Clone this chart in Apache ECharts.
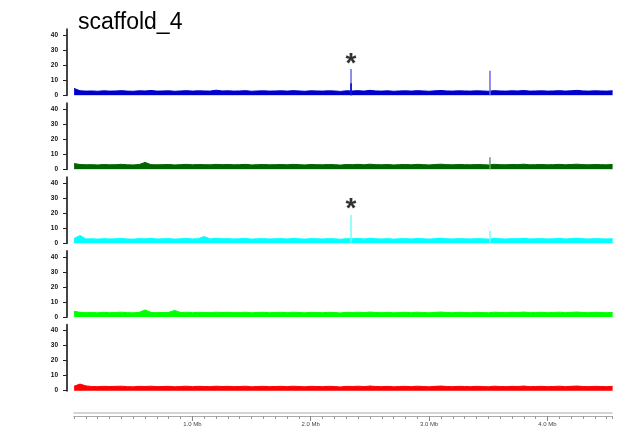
<!DOCTYPE html>
<html><head><meta charset="utf-8">
<script src="https://cdn.jsdelivr.net/npm/echarts@6/dist/echarts.min.js"></script>
<style>html,body{margin:0;padding:0;background:#fff}#c{width:630px;height:431px}</style>
</head><body><div id="c"></div>
<script>
// Coverage bins: 0.05 Mb each, starting at 0 Mb
const binSizeMb = 0.05;
const blueCov = [
4.6,3.0,2.8,2.9,2.7,3.0,2.8,2.9,3.1,2.8,
2.7,3.0,2.9,3.2,2.8,2.9,3.0,2.7,2.9,3.1,
2.8,3.0,2.9,2.8,3.4,2.9,3.0,2.8,2.9,3.1,
2.7,2.9,3.0,2.8,2.9,3.0,2.8,3.1,2.9,2.7,
3.0,2.9,2.8,3.0,2.9,2.6,3.0,2.9,3.1,2.8,
3.3,2.9,2.8,3.0,2.7,2.9,3.0,2.8,3.1,2.9,
2.7,3.0,3.2,2.9,2.8,3.0,2.9,2.8,3.0,2.9,
2.7,3.1,2.9,2.8,3.0,2.9,3.2,2.8,2.9,3.0,
2.8,2.9,3.1,2.8,3.0,3.3,2.9,2.8,3.0,2.9,
2.8,3.0];
const greenCov = [
3.8,3.2,3.0,3.1,2.9,3.2,3.0,3.1,3.3,3.0,
2.9,3.2,4.6,3.1,3.0,3.1,3.2,2.9,3.1,3.3,
3.0,3.2,3.1,3.0,3.3,3.1,3.2,3.0,3.1,3.3,
2.9,3.1,3.2,3.0,3.1,3.2,3.0,3.3,3.1,2.9,
3.2,3.1,3.0,3.2,3.1,2.8,3.2,3.1,3.3,3.0,
3.4,3.1,3.0,3.2,2.9,3.1,3.2,3.0,3.3,3.1,
2.9,3.2,3.4,3.1,3.0,3.2,3.1,3.0,3.2,3.1,
2.9,3.3,3.1,3.0,3.2,3.1,3.4,3.0,3.1,3.2,
3.0,3.1,3.3,3.0,3.2,3.4,3.1,3.0,3.2,3.1,
3.0,3.2];
const cyanCov = [
3.2,5.2,2.9,3.0,2.8,3.1,2.9,3.0,3.2,2.9,
2.8,3.1,3.0,3.2,2.9,3.0,3.1,2.8,3.0,3.2,
2.9,3.1,4.5,2.9,3.3,3.0,3.1,2.9,3.0,3.2,
2.8,3.0,3.1,2.9,3.0,3.1,2.9,3.2,3.0,2.8,
3.1,3.0,2.9,3.1,3.0,2.7,3.1,3.0,3.2,2.9,
3.3,3.0,2.9,3.1,2.8,3.0,3.1,2.9,3.2,3.0,
2.8,3.1,3.3,3.0,2.9,3.1,3.0,2.9,3.1,3.0,
2.8,3.2,3.0,2.9,3.1,3.0,3.3,2.9,3.0,3.1,
2.9,3.0,3.2,2.9,3.1,3.3,3.0,2.9,3.1,3.0,
2.9,3.1];
const limeCov = [
3.8,3.1,2.9,3.0,2.8,3.1,2.9,3.0,3.2,2.9,
2.8,3.1,4.7,3.0,2.9,3.0,3.1,4.4,3.0,3.2,
2.9,3.1,3.0,2.9,3.2,3.0,3.1,2.9,3.0,3.2,
2.8,3.0,3.1,2.9,3.0,3.1,2.9,3.2,3.0,2.8,
3.1,3.0,2.9,3.1,3.0,2.7,3.1,3.0,3.2,2.9,
3.3,3.0,2.9,3.1,2.8,3.0,3.1,2.9,3.2,3.0,
2.8,3.1,3.3,3.0,2.9,3.1,3.0,2.9,3.1,3.0,
2.8,3.2,3.0,2.9,3.1,3.0,3.3,2.9,3.0,3.1,
2.9,3.0,3.2,2.9,3.1,3.3,3.0,2.9,3.1,3.0,
2.9,3.1];
const redCov = [
3.0,4.4,3.2,2.8,2.7,2.9,2.8,2.9,3.0,2.7,
2.6,2.9,2.8,3.0,2.7,2.8,2.9,2.6,2.8,3.0,
2.7,2.9,2.8,2.7,3.0,2.8,2.9,2.7,2.8,3.0,
2.6,2.8,2.9,2.7,2.8,2.9,2.7,3.0,2.8,2.6,
2.9,2.8,2.7,2.9,2.8,2.5,2.9,2.8,3.0,2.7,
3.1,2.8,2.7,2.9,2.6,2.8,2.9,2.7,3.0,2.8,
2.6,2.9,3.1,2.8,2.7,2.9,2.8,2.7,2.9,2.8,
2.6,3.0,2.8,2.7,2.9,2.8,3.1,2.7,2.8,2.9,
2.7,2.8,3.0,2.7,2.9,3.1,2.8,2.7,2.9,2.8,
2.7,2.9];

// Narrow peaks (Mb position, height)
const blueSpikePos = [2.34, 3.514];
const blueSpikeVals = [17.6, 16.3];
const blueCorePos = [2.34];
const blueCoreVals = [8];
const greenSpikePos = [3.514];
const greenSpikeVals = [8];
const cyanSpikePos = [2.34, 3.514];
const cyanSpikeVals = [18.9, 8.4];

// Asterisk markers (Mb position, anchor height)
const blueStarPos = [2.34];
const blueStarVals = [21];
const cyanStarPos = [2.34];
const cyanStarVals = [22.8];

const yTicks = [0, 10, 20, 30, 40];
const rulerMajor = [1, 2, 3, 4];
const titleText = 'scaffold_4';

const tracks = [
  {cov: blueCov, color: '#0000cd', spikeColor: '#6a6ae6', sp: blueSpikePos, sv: blueSpikeVals, cp: blueCorePos, cv: blueCoreVals, st: blueStarPos, stv: blueStarVals},
  {cov: greenCov, color: '#006400', spikeColor: '#66a066', sp: greenSpikePos, sv: greenSpikeVals, cp: [], cv: [], st: [], stv: []},
  {cov: cyanCov, color: '#00ffff', spikeColor: '#70ffff', sp: cyanSpikePos, sv: cyanSpikeVals, cp: [], cv: [], st: cyanStarPos, stv: cyanStarVals},
  {cov: limeCov, color: '#00ff00', spikeColor: '#70ff70', sp: [], sv: [], cp: [], cv: [], st: [], stv: []},
  {cov: redCov, color: '#ff0000', spikeColor: '#ff7070', sp: [], sv: [], cp: [], cv: [], st: [], stv: []}
];

const zeroY = [95.3, 169.3, 243.3, 317, 390.7];
const panelH = 66;
const X_MIN = -0.06, X_MAX = 4.545;

const grids = [], xAxes = [], yAxes = [], series = [];
tracks.forEach((t, i) => {
  grids.push({left: 67, right: 18, top: zeroY[i] - panelH, height: panelH});
  xAxes.push({type: 'value', gridIndex: i, min: X_MIN, max: X_MAX, show: false});
  yAxes.push({
    type: 'value', gridIndex: i, min: 0, max: 44, position: 'left',
    axisLine: {show: true, onZero: false, lineStyle: {color: '#444', width: 2}},
    axisTick: {show: true, customValues: yTicks, length: 4, lineStyle: {color: '#222', width: 1}},
    axisLabel: {show: true, customValues: yTicks, fontSize: 6.5, fontWeight: 'bold', color: '#111', margin: 9},
    splitLine: {show: false}
  });
  series.push({
    type: 'line', xAxisIndex: i, yAxisIndex: i,
    data: t.cov.map((v, j) => [j * binSizeMb, v]),
    showSymbol: false, symbol: 'none', clip: true,
    lineStyle: {color: t.color, width: 1},
    areaStyle: {color: t.color, opacity: 1},
    animation: false, z: 2
  });
  if (t.sp.length) series.push({
    type: 'bar', xAxisIndex: i, yAxisIndex: i,
    data: t.sp.map((p, j) => [p, t.sv[j]]),
    barWidth: 1.5, barGap: '-100%',
    itemStyle: {color: t.spikeColor},
    animation: false, z: 3
  });
  if (t.cp.length) series.push({
    type: 'bar', xAxisIndex: i, yAxisIndex: i,
    data: t.cp.map((p, j) => [p, t.cv[j]]),
    barWidth: 1.5, barGap: '-100%',
    itemStyle: {color: t.color},
    animation: false, z: 4
  });
  if (t.st.length) series.push({
    type: 'scatter', xAxisIndex: i, yAxisIndex: i,
    data: t.st.map((p, j) => [p, t.stv[j]]),
    symbolSize: 0,
    label: {show: true, formatter: '*', position: 'inside', fontSize: 28, fontWeight: 'bold', color: '#000'},
    animation: false, z: 5
  });
});

// Ruler grid
const rg = tracks.length;
grids.push({left: 74, right: 18, top: 400, height: 16});
yAxes.push({type: 'value', gridIndex: rg, min: 0, max: 1, show: false});
xAxes.push({
  type: 'value', gridIndex: rg, min: 0, max: 4.545, interval: 0.1, position: 'bottom',
  axisLine: {show: true, onZero: false, lineStyle: {color: '#aaaaaa', width: 1.2}},
  axisTick: {show: true, length: 3, lineStyle: {color: '#999'}},
  axisLabel: {show: false}, splitLine: {show: false}
});
xAxes.push({
  type: 'value', gridIndex: rg, min: 0, max: 4.545, position: 'bottom', offset: -3,
  axisLine: {show: true, onZero: false, lineStyle: {color: '#c8c8c8', width: 1.5}},
  axisTick: {show: false}, axisLabel: {show: false}, splitLine: {show: false}
});
xAxes.push({
  type: 'value', gridIndex: rg, min: 0, max: 4.545, position: 'bottom',
  axisLine: {show: false, onZero: false},
  axisTick: {show: true, customValues: rulerMajor, length: 5, lineStyle: {color: '#888'}},
  axisLabel: {show: true, customValues: rulerMajor, formatter: v => v.toFixed(1) + ' Mb', fontSize: 6, color: '#444', margin: 5},
  splitLine: {show: false}
});

const chart = echarts.init(document.getElementById('c'), null, {renderer: 'canvas'});
chart.setOption({
  animation: false,
  backgroundColor: '#fff',
  textStyle: {fontFamily: 'Liberation Sans, Arial, sans-serif'},
  title: {text: titleText, left: 78, top: 11, padding: 0,
    textStyle: {fontSize: 23, fontWeight: 'normal', color: '#000', fontFamily: 'Liberation Sans, Arial, sans-serif'}},
  grid: grids, xAxis: xAxes, yAxis: yAxes, series: series
});
</script>
</body></html>
